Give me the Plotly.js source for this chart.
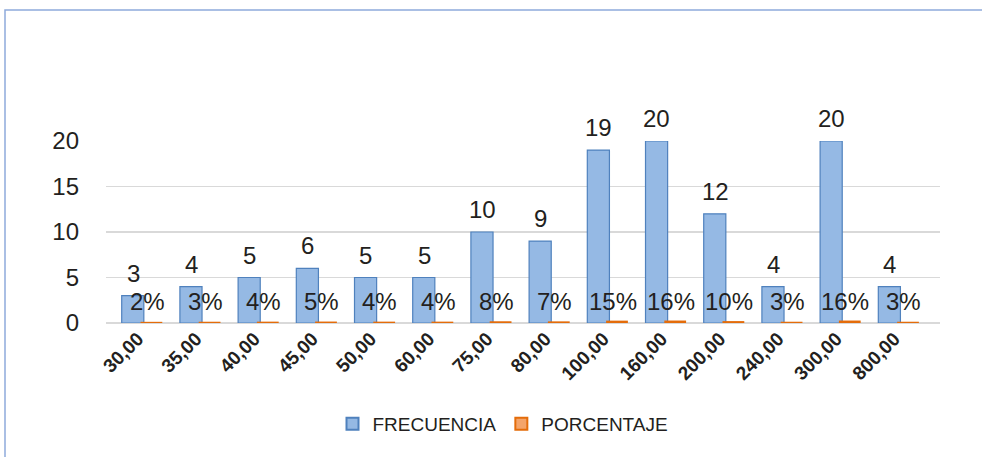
<!DOCTYPE html>
<html>
<head>
<meta charset="utf-8">
<script src="https://cdn.plot.ly/plotly-3.0.1.min.js"></script>
<style>
  html, body { margin: 0; padding: 0; background: #fff; }
  #chart { width: 982px; height: 457px; }
</style>
</head>
<body>
<div id="chart"></div>
<script>
// ---- data ----
const categories = ["30,00","35,00","40,00","45,00","50,00","60,00","75,00","80,00","100,00","160,00","200,00","240,00","300,00","800,00"];
const frecuencia = [3, 4, 5, 6, 5, 5, 10, 9, 19, 20, 12, 4, 20, 4];
const porcentaje = [0.02, 0.03, 0.04, 0.05, 0.04, 0.04, 0.08, 0.07, 0.15, 0.16, 0.10, 0.03, 0.16, 0.03];
const porcentajeLabels = porcentaje.map(v => Math.round(v * 100) + "%");

// ---- layout geometry ----
const W = 982, H = 457;
const L = 106, R = 42, T = 141, B = 134;
const plotW = W - L - R, plotH = H - T - B;
const px = x => (x - L) / plotW;
const py = y => (H - B - y) / plotH;

const FONT = "Liberation Sans, Arial, sans-serif";
const INK = "#231F20";

const traces = [
  {
    type: "bar", name: "FRECUENCIA", x: categories, y: frecuencia,
    offset: -0.28, width: 0.38,
    marker: { color: "#95B9E4", line: { color: "#4F81BD", width: 1.2 } },
    hoverinfo: "x+y", cliponaxis: false
  },
  {
    type: "bar", name: "PORCENTAJE", x: categories, y: porcentaje,
    offset: 0.06, width: 0.34,
    marker: { color: "#F4A46A", line: { color: "#E46C0A", width: 2 } },
    hoverinfo: "x+y", cliponaxis: false
  }
];

const annotations = [];
categories.forEach((c, i) => {
  annotations.push({
    x: c, y: frecuencia[i], xref: "x", yref: "y",
    text: String(frecuencia[i]), showarrow: false,
    yanchor: "bottom", yshift: 7, xshift: -5,
    font: { family: FONT, size: 24, color: INK }
  });
  annotations.push({
    x: c, y: 0, xref: "x", yref: "y",
    text: porcentajeLabels[i], showarrow: false,
    yanchor: "middle", yshift: 22, xshift: 9,
    font: { family: FONT, size: 24, color: INK }
  });
});

const layout = {
  width: W, height: H,
  margin: { l: L, r: R, t: T, b: B, pad: 0 },
  paper_bgcolor: "#ffffff", plot_bgcolor: "#ffffff",
  showlegend: true,
  legend: {
    orientation: "h", x: px(503), y: py(424), xanchor: "center", yanchor: "middle",
    font: { family: FONT, size: 19, color: INK },
    itemsizing: "constant", traceorder: "normal", itemwidth: 30
  },
  xaxis: {
    type: "category", range: [-0.55, 13.78],
    tickangle: -45, showgrid: false, zeroline: false, showline: false,
    tickfont: { family: FONT, size: 19, color: INK, weight: "bold" },
    ticks: "", fixedrange: true
  },
  yaxis: {
    range: [0, 20], tickvals: [0, 5, 10, 15, 20],
    showgrid: true, gridcolor: "#D9D9D9", gridwidth: 1.5,
    zeroline: true, zerolinecolor: "#D9D9D9", zerolinewidth: 1.5,
    showline: false, ticks: "", ticklabelstandoff: 26,
    tickfont: { family: FONT, size: 24, color: INK }, fixedrange: true
  },
  annotations: annotations,
  shapes: [{
    type: "path", xref: "paper", yref: "paper",
    path: `M ${px(5)} ${py(460)} L ${px(5)} ${py(10)} L ${px(990)} ${py(10)}`,
    line: { color: "#8EAADB", width: 1.5 }
  }]
};

Plotly.newPlot("chart", traces, layout, { displayModeBar: false, staticPlot: true });
</script>
</body>
</html>
